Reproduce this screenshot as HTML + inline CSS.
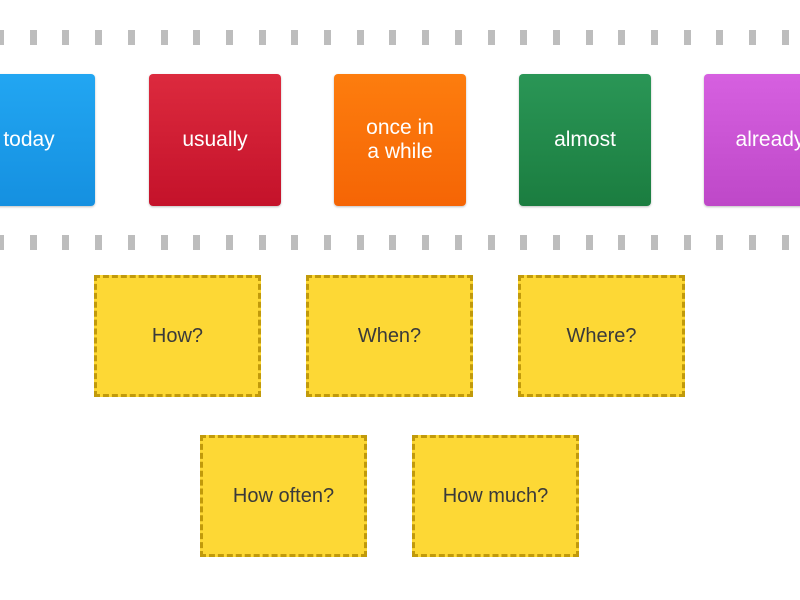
<!DOCTYPE html>
<html><head><style>
body{margin:0;width:800px;height:600px;background:#fff;position:relative;overflow:hidden;font-family:"Liberation Sans",sans-serif}
.d{position:absolute;width:7px;height:15px;background:#bdbdbd}
.t{position:absolute;top:74px;width:132px;height:132px;border-radius:4px;color:#fff;font-size:21px;display:flex;align-items:center;justify-content:center;text-align:center;line-height:24px;box-shadow:0 1px 2px rgba(0,0,0,.25)}
.y{position:absolute;background:#fdd835;border:3px dashed #c19a0b;box-sizing:border-box;width:167px;height:122px;display:flex;align-items:center;justify-content:center;color:#3a3a3a;font-size:20px}
</style></head><body>
<div id="dots"></div>
<div class="t" style="left:-37px;background:linear-gradient(#22a6f2,#1590e0)">today</div>
<div class="t" style="left:149px;background:linear-gradient(#dc2a3e,#c4122a)">usually</div>
<div class="t" style="left:334px;background:linear-gradient(#fd7d0e,#f56505)">once in<br>a while</div>
<div class="t" style="left:519px;background:linear-gradient(#2a9656,#1b7d40)">almost</div>
<div class="t" style="left:704px;background:linear-gradient(#d660e0,#be48c8)">already</div>
<div class="y" style="left:94px;top:275px">How?</div>
<div class="y" style="left:306px;top:275px">When?</div>
<div class="y" style="left:518px;top:275px">Where?</div>
<div class="y" style="left:200px;top:435px">How often?</div>
<div class="y" style="left:412px;top:435px">How much?</div>
<script>
var h='';for(var i=0;i<26;i++){var x=Math.round(-3+i*32.7);h+='<div class="d" style="left:'+x+'px;top:30px"></div><div class="d" style="left:'+x+'px;top:235px"></div>';}
document.getElementById('dots').innerHTML=h;
</script>
</body></html>
